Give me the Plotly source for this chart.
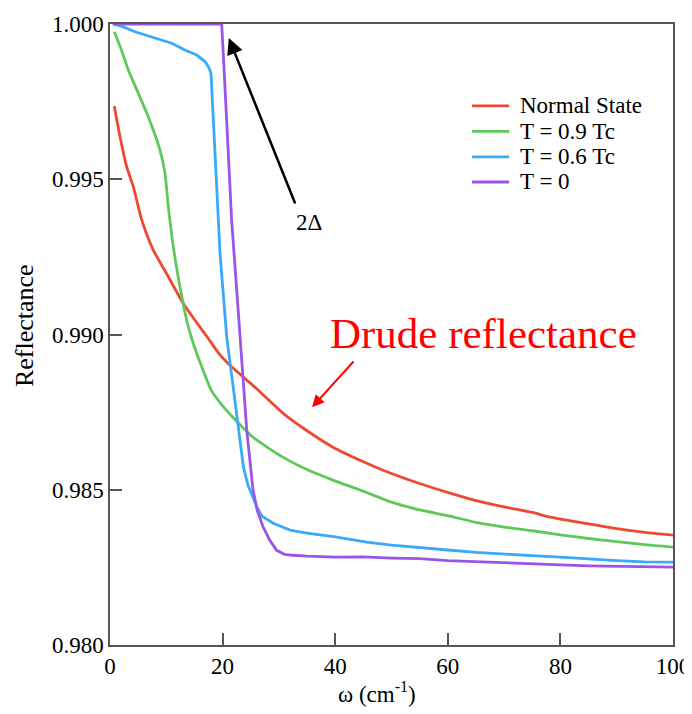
import plotly.graph_objects as go

# ---- data ----
normal_x = [0.76, 1.78, 2.97, 4.14, 5.63, 7.69, 10.36, 13.02, 15.10, 17.46, 19.5, 21.3, 23.1, 26.0, 30.7, 35.0,
            39.6, 45.0, 48.5, 55.0, 60.4, 65.0, 70.0, 75.0, 78.2, 85.0, 90.0, 95.0, 100.0]
normal_y = [0.99736, 0.99637, 0.99540, 0.99476, 0.99369, 0.99272, 0.99186, 0.99100, 0.99046, 0.98987, 0.98935,
            0.98901, 0.98872, 0.98826, 0.98747, 0.98690, 0.98637, 0.98590, 0.98563, 0.98520, 0.98489, 0.98465,
            0.98445, 0.98427, 0.98412, 0.98390, 0.98375, 0.98363, 0.98354]

t09_x = [0.76, 2.0, 3.25, 5.03, 6.8, 8.88, 9.77, 10.36, 11.24, 12.43, 13.62, 14.51, 16.0, 18.0, 20.0, 21.8, 25.4,
         30.7, 35.0, 39.6, 45.0, 50.0, 55.0, 60.4, 65.0, 70.0, 75.0, 80.0, 85.0, 90.0, 95.0, 100.0]
t09_y = [0.99975, 0.99918, 0.99852, 0.99777, 0.99701, 0.99594, 0.99519, 0.99411, 0.99283, 0.99154, 0.99046,
         0.98987, 0.98910, 0.98820, 0.98770, 0.98734, 0.98669, 0.98605, 0.98565, 0.98531, 0.98495, 0.98460,
         0.98435, 0.98415, 0.98395, 0.98380, 0.98368, 0.98355, 0.98343, 0.98333, 0.98323, 0.98315]

t06_x = [0.5, 2.0, 4.44, 6.2, 9.18, 10.95, 13.3, 15.4, 16.87, 17.5, 17.94, 18.15, 18.35, 18.95, 19.54, 20.73,
         21.6, 22.56, 23.7, 24.5, 25.45, 26.1, 27.0, 29.0, 32.0, 35.0, 40.0, 45.6, 50.0, 55.0, 60.0, 65.0, 70.0,
         75.0, 80.0, 85.0, 90.0, 95.0, 100.0]
t06_y = [1.00000, 0.99993, 0.99975, 0.99965, 0.99948, 0.99938, 0.99916, 0.99900, 0.99879, 0.99862, 0.99841,
         0.99760, 0.99670, 0.99476, 0.99262, 0.98992, 0.98870, 0.98734, 0.98573, 0.98515, 0.98476, 0.98444,
         0.98415, 0.98392, 0.98370, 0.98360, 0.98348, 0.98331, 0.98322, 0.98313, 0.98306, 0.98298, 0.98292,
         0.98288, 0.98283, 0.98277, 0.98272, 0.98268, 0.98267]

t0_x = [0.5, 5.0, 10.0, 15.0, 19.84, 20.72, 21.6, 22.4, 23.09, 23.5, 24.3, 25.4, 26.2, 27.2, 28.3, 29.6, 31.0,
        32.5, 35.0, 40.0, 45.0, 50.0, 55.0, 60.0, 65.0, 70.0, 75.0, 80.0, 85.0, 90.0, 95.0, 100.0]
t0_y = [1.00000, 1.00000, 1.00000, 1.00000, 1.00000, 0.99691, 0.99369, 0.99170, 0.98993, 0.98880, 0.98690,
        0.98500, 0.98430, 0.98380, 0.98340, 0.98305, 0.98292, 0.98289, 0.98286, 0.98283, 0.98284, 0.98280,
        0.98278, 0.98272, 0.98268, 0.98264, 0.98262, 0.98258, 0.98255, 0.98253, 0.98252, 0.98251]

series_names = ["Normal State", "T = 0.9 Tc", "T = 0.6 Tc", "T = 0"]
series_colors = ["#ec4a33", "#5ec95a", "#38aaf8", "#9b55e6"]
series_shapes = ["spline", "spline", "linear", "linear"]

x_ticks = [0, 20, 40, 60, 80, 100]
y_ticks = [0.980, 0.985, 0.990, 0.995, 1.000]
y_tick_labels = ["0.980", "0.985", "0.990", "0.995", "1.000"]

FONT = "Liberation Serif"
AXC = "#555555"

fig = go.Figure()
for xs, ys, name, col, shp in zip([normal_x, t09_x, t06_x, t0_x], [normal_y, t09_y, t06_y, t0_y],
                                  series_names, series_colors, series_shapes):
    fig.add_trace(go.Scatter(x=xs, y=ys, mode="lines", name=name, showlegend=False,
                             line=dict(color=col, width=2.8, shape=shp, smoothing=0.6)))

fig.update_layout(
    width=684, height=706,
    margin=dict(l=102, r=19, t=16, b=69),
    paper_bgcolor="white", plot_bgcolor="white",
    font=dict(family=FONT, size=23, color="black"),
    showlegend=False,
    xaxis=dict(range=[0, 100], tickvals=x_ticks, ticks="inside", ticklen=12, tickwidth=1.5,
               tickcolor=AXC, showline=True, linecolor=AXC, linewidth=1.5, mirror=True,
               showgrid=False, zeroline=False, automargin=False,
               tickfont=dict(family=FONT, size=23, color="black")),
    yaxis=dict(range=[0.98, 1.0], tickvals=y_ticks, ticktext=y_tick_labels, ticks="inside",
               ticklen=12, tickwidth=1.5, tickcolor=AXC, showline=True, linecolor=AXC, linewidth=1.5,
               mirror=True, showgrid=False, zeroline=False, automargin=False,
               tickfont=dict(family=FONT, size=23, color="black")),
)

# legend drawn manually (line sample + label) to match the compact spacing of the original
leg_rows = [0.868, 0.827, 0.786, 0.7456]
for name, col, yy in zip(series_names, series_colors, leg_rows):
    fig.add_shape(type="line", xref="paper", yref="paper", x0=0.643, x1=0.709, y0=yy, y1=yy,
                  line=dict(color=col, width=2.8))
    fig.add_annotation(text=name, xref="paper", yref="paper", x=0.725, y=yy, xanchor="left",
                       yanchor="middle", showarrow=False, font=dict(family=FONT, size=23, color="black"))

# axis titles as annotations for exact placement
fig.add_annotation(text="ω (cm<sup>-1</sup>)", xref="paper", yref="paper", x=0.474, y=-0.077,
                   xanchor="center", yanchor="middle", showarrow=False,
                   font=dict(family=FONT, size=23, color="black"))
fig.add_annotation(text="Reflectance", xref="paper", yref="paper", x=-0.153, y=0.515,
                   xanchor="center", yanchor="middle", textangle=-90, showarrow=False,
                   font=dict(family=FONT, size=26, color="black"))

# 2Δ arrow
fig.add_annotation(x=21.1, y=0.99955, ax=33.0, ay=0.99417, axref="x", ayref="y", xref="x", yref="y",
                   text="", showarrow=True, arrowhead=2, arrowsize=1.3, arrowwidth=2.5, arrowcolor="black")
fig.add_annotation(x=35.3, y=0.99362, xref="x", yref="y", text="2Δ", showarrow=False,
                   font=dict(family=FONT, size=23, color="black"))

# Drude reflectance label + red arrow
fig.add_annotation(x=66.3, y=0.99004, xref="x", yref="y", text="Drude reflectance", showarrow=False,
                   font=dict(family=FONT, size=43, color="#ff0000"))
fig.add_annotation(x=35.9, y=0.98766, ax=43.5, ay=0.98918, axref="x", ayref="y", xref="x", yref="y",
                   text="", showarrow=True, arrowhead=2, arrowsize=1.2, arrowwidth=2, arrowcolor="#ff0000")

fig.write_html("out.html")
